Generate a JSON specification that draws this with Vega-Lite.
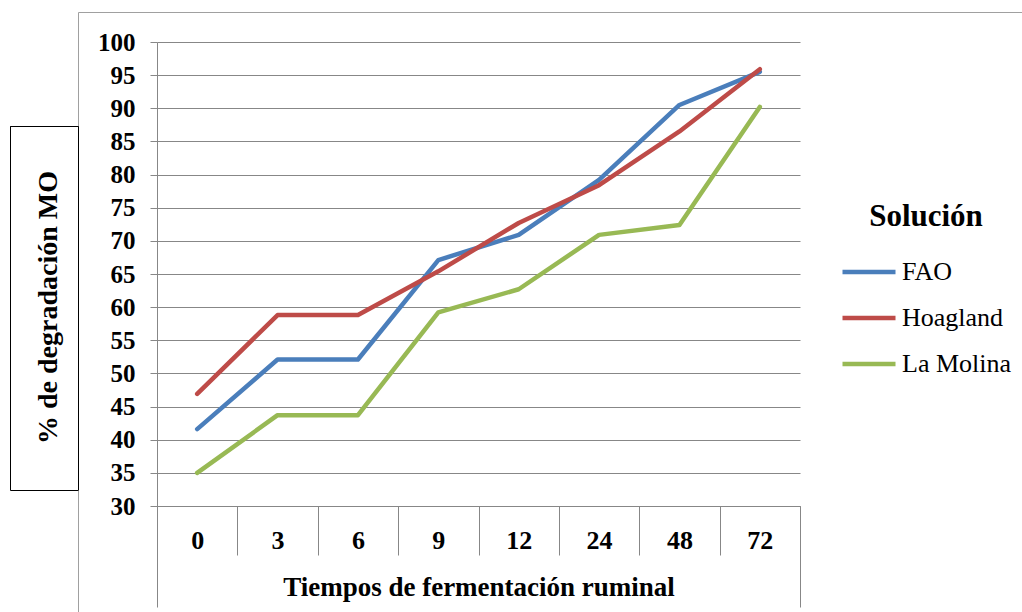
{
  "$schema": "https://vega.github.io/schema/vega-lite/v6.json",
  "width": 643,
  "height": 464,
  "autosize": {"type": "none"},
  "padding": {"left": 157, "top": 42, "right": 222, "bottom": 106},
  "background": "white",
  "config": {
    "view": {"stroke": null},
    "font": "Liberation Serif",
    "axis": {"labelFont": "Liberation Serif", "titleFont": "Liberation Serif"},
    "legend": {"labelFont": "Liberation Serif", "titleFont": "Liberation Serif"}
  },
  "data": {
    "values": [
      {"t": "0", "s": "FAO", "v": 41.6},
      {"t": "3", "s": "FAO", "v": 52.1},
      {"t": "6", "s": "FAO", "v": 52.1},
      {"t": "9", "s": "FAO", "v": 67.1},
      {"t": "12", "s": "FAO", "v": 70.9},
      {"t": "24", "s": "FAO", "v": 79.2},
      {"t": "48", "s": "FAO", "v": 90.5},
      {"t": "72", "s": "FAO", "v": 95.5},
      {"t": "0", "s": "Hoagland", "v": 46.9},
      {"t": "3", "s": "Hoagland", "v": 58.8},
      {"t": "6", "s": "Hoagland", "v": 58.8},
      {"t": "9", "s": "Hoagland", "v": 65.4},
      {"t": "12", "s": "Hoagland", "v": 72.7},
      {"t": "24", "s": "Hoagland", "v": 78.4},
      {"t": "48", "s": "Hoagland", "v": 86.5},
      {"t": "72", "s": "Hoagland", "v": 95.9},
      {"t": "0", "s": "La Molina", "v": 35.0},
      {"t": "3", "s": "La Molina", "v": 43.7},
      {"t": "6", "s": "La Molina", "v": 43.7},
      {"t": "9", "s": "La Molina", "v": 59.2},
      {"t": "12", "s": "La Molina", "v": 62.7},
      {"t": "24", "s": "La Molina", "v": 70.9},
      {"t": "48", "s": "La Molina", "v": 72.4},
      {"t": "72", "s": "La Molina", "v": 90.2}
    ]
  },
  "layer": [
    {
      "mark": {"type": "line", "strokeWidth": 4.5, "strokeCap": "round", "strokeJoin": "round"},
      "encoding": {
        "x": {
          "field": "t", "type": "nominal",
          "sort": ["0", "3", "6", "9", "12", "24", "48", "72"],
          "bandPosition": 0.5,
          "scale": {"type": "band", "paddingInner": 0, "paddingOuter": 0},
          "axis": {
            "title": "Tiempos de fermentación ruminal",
            "labelAngle": 0,
            "tickBand": "extent",
            "tickSize": 49,
            "tickColor": "#878787",
            "tickWidth": 1,
            "domainColor": "#878787",
            "grid": false,
            "labelFontSize": 26,
            "labelFontWeight": "bold",
            "labelColor": "#000000",
            "labelPadding": -28,
            "titleFontSize": 27,
            "titleFontWeight": "bold",
            "titleColor": "#000000",
            "titlePadding": 19
          }
        },
        "y": {
          "field": "v", "type": "quantitative",
          "scale": {"domain": [30, 100], "nice": false, "zero": false},
          "axis": {
            "title": "% de degradación MO",
            "values": [30, 35, 40, 45, 50, 55, 60, 65, 70, 75, 80, 85, 90, 95, 100],
            "tickSize": 7,
            "tickColor": "#878787",
            "domainColor": "#878787",
            "gridColor": "#878787",
            "gridWidth": 1.2,
            "labelFontSize": 25,
            "labelFontWeight": "bold",
            "labelColor": "#000000",
            "labelPadding": 15,
            "titleFontSize": 28,
            "titleFontWeight": "bold",
            "titleColor": "#000000",
            "titlePadding": 35,
            "titleY": 265
          }
        },
        "color": {
          "field": "s", "type": "nominal",
          "scale": {"domain": ["FAO", "Hoagland", "La Molina"], "range": ["#4A7EBB", "#BE4B48", "#98B954"]},
          "legend": {
            "title": "Solución",
            "orient": "none",
            "legendX": 683,
            "legendY": 160,
            "symbolType": "stroke",
            "symbolSize": 2809,
            "symbolStrokeWidth": 4.5,
            "labelFontSize": 26,
            "labelColor": "#000000",
            "labelOffset": 4,
            "titleFontSize": 31,
            "titleFontWeight": "bold",
            "titleColor": "#000000",
            "titleAnchor": "middle",
            "titlePadding": 19,
            "clipHeight": 40,
            "rowPadding": 6,
            "padding": 0
          }
        }
      }
    },
    {
      "mark": {"type": "point", "opacity": 0},
      "encoding": {
        "x": {
          "field": "v", "type": "quantitative",
          "scale": {"domain": [0, 1], "nice": false, "zero": false},
          "axis": {"orient": "bottom", "values": [0, 1], "tickSize": 101, "tickColor": "#878787", "labels": false, "domain": false, "grid": false, "title": null}
        },
        "y": {
          "field": "v", "type": "quantitative",
          "scale": {"domain": [0, 600], "range": [570, -30], "nice": false, "zero": false},
          "axis": {"orient": "left", "offset": 79, "values": [122, 486.3], "tickSize": 68, "tickColor": "#000000", "domainColor": "#a0a0a0", "labels": false, "grid": false, "title": null}
        }
      }
    },
    {
      "mark": {"type": "point", "opacity": 0},
      "encoding": {
        "x": {
          "field": "v", "type": "quantitative",
          "scale": {"domain": [0, 1], "range": [-79, 865], "nice": false, "zero": false},
          "axis": {"orient": "top", "offset": 30, "ticks": false, "labels": false, "grid": false, "domainColor": "#a0a0a0", "title": null}
        },
        "y": {
          "field": "v", "type": "quantitative",
          "scale": {"domain": [0, 1], "range": [448, 83.7], "nice": false, "zero": false},
          "axis": {"orient": "left", "offset": 147, "ticks": false, "labels": false, "grid": false, "domainColor": "#000000", "title": null}
        }
      }
    },
    {
      "mark": {"type": "point", "opacity": 0},
      "encoding": {
        "y": {
          "field": "v", "type": "quantitative",
          "scale": {"domain": [0, 1], "range": [448, 83.7], "nice": false, "zero": false},
          "axis": {"orient": "left", "offset": 79, "ticks": false, "labels": false, "grid": false, "domainColor": "#000000", "title": null}
        }
      }
    }
  ],
  "resolve": {"scale": {"x": "independent", "y": "independent"}}
}
